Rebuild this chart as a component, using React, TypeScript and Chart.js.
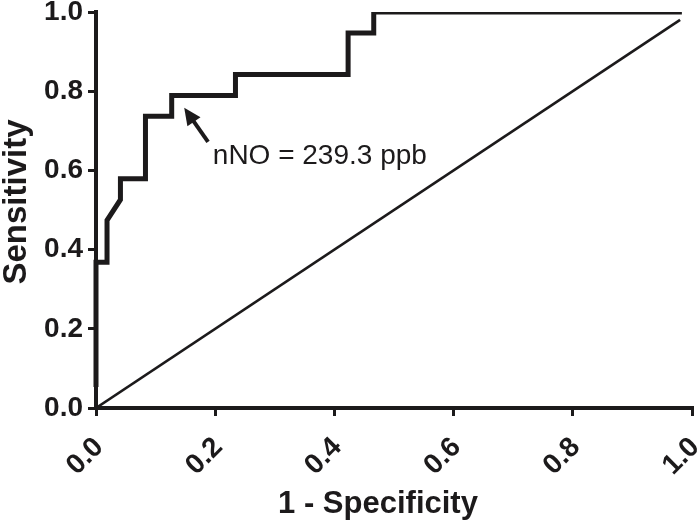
import React, { useEffect, useRef } from "react";
import { Chart, registerables } from "chart.js";

Chart.register(...registerables);

// ROC curve (1 - specificity vs sensitivity)
const rocFpr = [0, 0, 0.0185, 0.0185, 0.041, 0.041, 0.083, 0.083, 0.127, 0.127, 0.234, 0.234, 0.423, 0.423, 0.466, 0.466, 0.983];
const rocTpr = [0.053, 0.368, 0.368, 0.474, 0.526, 0.579, 0.579, 0.737, 0.737, 0.789, 0.789, 0.842, 0.842, 0.947, 0.947, 1.0, 1.0];
// line of identity
const refFpr = [0, 0.98];
const refTpr = [0, 0.98];
// ticks
const tickValues = [0, 0.2, 0.4, 0.6, 0.8, 1.0];
const xTitle = "1 - Specificity";
const yTitle = "Sensitivity";
// annotation (data coordinates)
const noteText = "nNO = 239.3 ppb";
const noteAt = [0.196, 0.617];
const arrowTip = [0.148, 0.758];
const arrowTail = [0.188, 0.672];

const INK = "#1c1a1b";
const FONT = '"Liberation Sans", Arial, Helvetica, sans-serif';

const overlay = {
  id: "overlay",
  afterDraw(chart: any) {
    const { ctx } = chart;
    const x = chart.scales.x;
    const y = chart.scales.y;
    ctx.save();
    // arrow
    const tx = x.getPixelForValue(arrowTip[0]);
    const ty = y.getPixelForValue(arrowTip[1]);
    const sx = x.getPixelForValue(arrowTail[0]);
    const sy = y.getPixelForValue(arrowTail[1]);
    const ang = Math.atan2(ty - sy, tx - sx);
    const headLen = 17;
    const headW = 8;
    const bx = tx - headLen * Math.cos(ang);
    const by = ty - headLen * Math.sin(ang);
    ctx.strokeStyle = INK;
    ctx.lineWidth = 4;
    ctx.beginPath();
    ctx.moveTo(sx, sy);
    ctx.lineTo(bx + 2 * Math.cos(ang), by + 2 * Math.sin(ang));
    ctx.stroke();
    ctx.fillStyle = INK;
    ctx.beginPath();
    ctx.moveTo(tx, ty);
    ctx.lineTo(bx + headW * Math.sin(ang), by - headW * Math.cos(ang));
    ctx.lineTo(bx - headW * Math.sin(ang), by + headW * Math.cos(ang));
    ctx.closePath();
    ctx.fill();
    // note text
    ctx.font = `28px ${FONT}`;
    ctx.textAlign = "left";
    ctx.textBaseline = "alphabetic";
    ctx.fillText(noteText, x.getPixelForValue(noteAt[0]), y.getPixelForValue(noteAt[1]));
    // axis titles
    ctx.font = `bold 31px ${FONT}`;
    ctx.textAlign = "center";
    ctx.fillText(xTitle, 378, 513);
    ctx.font = `bold 33px ${FONT}`;
    ctx.translate(26, 202);
    ctx.rotate(-Math.PI / 2);
    ctx.fillText(yTitle, 0, 0);
    ctx.restore();
  },
};

export default function App() {
  const ref = useRef<HTMLCanvasElement | null>(null);
  useEffect(() => {
    if (!ref.current) return;
    const setTicks = (s: any) => {
      s.ticks = tickValues.map((v) => ({ value: v }));
    };
    const chart = new Chart(ref.current, {
      type: "scatter",
      data: {
        datasets: [
          {
            data: refFpr.map((v, i) => ({ x: v, y: refTpr[i] })),
            showLine: true,
            borderColor: INK,
            borderWidth: 2.6,
            pointRadius: 0,
            tension: 0,
          },
          {
            data: rocFpr.map((v, i) => ({ x: v, y: rocTpr[i] })),
            showLine: true,
            borderColor: INK,
            borderWidth: 5,
            pointRadius: 0,
            tension: 0,
            borderJoinStyle: "miter",
            clip: { left: 6, top: 0, right: 6, bottom: 6 },
          } as any,
        ],
      },
      options: {
        animation: false,
        responsive: false,
        layout: { padding: { top: 12, right: 6, left: 0, bottom: 0 } },
        plugins: { legend: { display: false }, tooltip: { enabled: false } },
        scales: {
          x: {
            type: "linear",
            min: 0,
            max: 1,
            afterBuildTicks: setTicks,
            afterFit: (s: any) => {
              s.height = 112;
              s.paddingLeft = 0;
              s.paddingRight = 0;
            },
            border: { display: true, color: INK, width: 4 },
            grid: { drawOnChartArea: false, drawTicks: true, tickLength: 8, color: INK, lineWidth: 3 },
            ticks: {
              minRotation: 45,
              maxRotation: 45,
              padding: 15,
              labelOffset: 3,
              color: INK,
              font: { family: FONT, size: 28, weight: "bold" },
              callback: (v: any) => Number(v).toFixed(1),
            },
          },
          y: {
            type: "linear",
            min: 0,
            max: 1,
            afterBuildTicks: setTicks,
            afterFit: (s: any) => {
              s.width = 96;
              s.paddingTop = 0;
              s.paddingBottom = 0;
            },
            border: { display: true, color: INK, width: 4 },
            grid: { drawOnChartArea: false, drawTicks: true, tickLength: 8, color: INK, lineWidth: 3 },
            ticks: {
              padding: 5,
              color: INK,
              font: { family: FONT, size: 28, weight: "bold" },
              callback: (v: any) => Number(v).toFixed(1),
            },
          },
        },
      },
      plugins: [overlay],
    });
    return () => chart.destroy();
  }, []);
  return (
    <div style={{ position: "absolute", left: 0, top: 0, width: 698, height: 520, background: "#fff" }}>
      <canvas ref={ref} width={698} height={520} style={{ display: "block" }} />
    </div>
  );
}
